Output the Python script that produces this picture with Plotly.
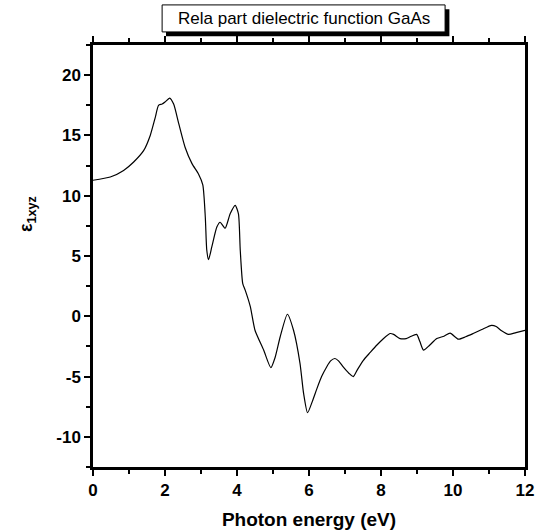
import plotly.graph_objects as go

energy = [0.0, 0.48, 0.85, 1.13, 1.41, 1.59, 1.73, 1.82, 1.92, 2.0, 2.13, 2.24, 2.38, 2.56,
          2.75, 2.93, 3.05, 3.12, 3.16, 3.21, 3.30, 3.44, 3.53, 3.67, 3.81, 3.95, 4.04, 4.09,
          4.16, 4.23, 4.37, 4.50, 4.74, 4.94, 5.06, 5.20, 5.40, 5.57, 5.75, 5.85, 5.96, 6.1,
          6.22, 6.35, 6.49, 6.6, 6.72, 6.82, 6.95, 7.1, 7.23, 7.35, 7.51, 7.7, 7.88, 8.05,
          8.25, 8.35, 8.53, 8.7, 8.81, 8.99, 9.08, 9.18, 9.35, 9.55, 9.75, 9.92, 10.15, 10.35,
          10.56, 10.8, 11.07, 11.2, 11.35, 11.54, 11.75, 12.0]
eps1 = [11.28, 11.55, 12.1, 12.8, 13.76, 15.0, 16.5, 17.5, 17.6, 17.77, 18.1, 17.6, 16.0, 14.0,
        12.66, 11.8, 10.9, 8.2, 5.5, 4.7, 5.75, 7.4, 7.8, 7.3, 8.5, 9.2, 8.5, 5.5,
        2.7, 2.15, 0.8, -1.16, -2.8, -4.26, -3.4, -1.7, 0.17, -1.16, -3.9, -6.4, -8.0, -7.0,
        -6.0, -5.0, -4.2, -3.7, -3.5, -3.7, -4.2, -4.7, -5.0, -4.4, -3.65, -3.0, -2.4, -1.9,
        -1.43, -1.5, -1.85, -1.85, -1.7, -1.5, -2.1, -2.8, -2.4, -1.85, -1.65, -1.4, -1.9, -1.7,
        -1.43, -1.1, -0.75, -0.85, -1.2, -1.5, -1.35, -1.16]

x_ticks = [0, 2, 4, 6, 8, 10, 12]
x_ticklabels = ["0", "2", "4", "6", "8", "10", "12"]
y_ticks = [-10, -5, 0, 5, 10, 15, 20]
y_ticklabels = ["-10", "-5", "0", "5", "10", "15", "20"]

title_text = "Rela part dielectric function GaAs"
x_title = "Photon energy (eV)"
y_title = "ε<sub>1xyz</sub>"

FONT = "Liberation Sans, Arial, sans-serif"

fig = go.Figure()
fig.add_trace(go.Scatter(x=energy, y=eps1, mode="lines",
                         line=dict(color="black", width=1.2, shape="spline", smoothing=0.6),
                         showlegend=False, hoverinfo="skip"))

fig.update_layout(
    width=535, height=530,
    margin=dict(l=93, r=10, t=45, b=63),
    paper_bgcolor="white", plot_bgcolor="white",
    font=dict(family=FONT, color="black"),
    xaxis=dict(range=[0, 12], tickvals=x_ticks, ticktext=["<b>%s</b>" % t for t in x_ticklabels],
               showgrid=False, zeroline=False, automargin=False,
               showline=True, linecolor="black", linewidth=2.5, mirror="ticks",
               ticks="outside", ticklen=6, tickwidth=2, tickcolor="black",
               minor=dict(dtick=1, ticks="outside", ticklen=4, tickwidth=1.5, tickcolor="black"),
               tickfont=dict(size=17, family=FONT),
               title=dict(text="<b>%s</b>" % x_title, font=dict(size=19, family=FONT), standoff=14)),
    yaxis=dict(range=[-12.5, 22.5], tickvals=y_ticks, ticktext=["<b>%s</b>" % t for t in y_ticklabels],
               showgrid=False, zeroline=False, automargin=False,
               showline=True, linecolor="black", linewidth=2.5, mirror=True,
               ticks="outside", ticklen=6, tickwidth=2, tickcolor="black",
               minor=dict(dtick=2.5, ticks="outside", ticklen=4, tickwidth=1.5, tickcolor="black"),
               tickfont=dict(size=17, family=FONT)),
)

# title box with shadow
fig.add_shape(type="rect", xref="paper", yref="paper", x0=0.169, x1=0.825, y0=1.021, y1=1.085,
              fillcolor="black", line=dict(width=0), layer="above")
fig.add_shape(type="rect", xref="paper", yref="paper", x0=0.160, x1=0.815, y0=1.031, y1=1.095,
              fillcolor="white", line=dict(color="black", width=1), layer="above")
fig.add_annotation(text=title_text, xref="paper", yref="paper", x=0.4875, y=1.063,
                   showarrow=False, xanchor="center", yanchor="middle",
                   font=dict(size=17, family=FONT, color="black"))
# y title
fig.add_annotation(text="<b>%s</b>" % y_title, xref="paper", yref="paper", x=-0.15, y=0.60,
                   xanchor="center", yanchor="middle", textangle=-90, showarrow=False,
                   font=dict(size=18, family=FONT, color="black"))

fig.write_html("out.html", config={"displayModeBar": False},
               post_script="document.body.style.margin='0';document.body.style.overflow='hidden';")
